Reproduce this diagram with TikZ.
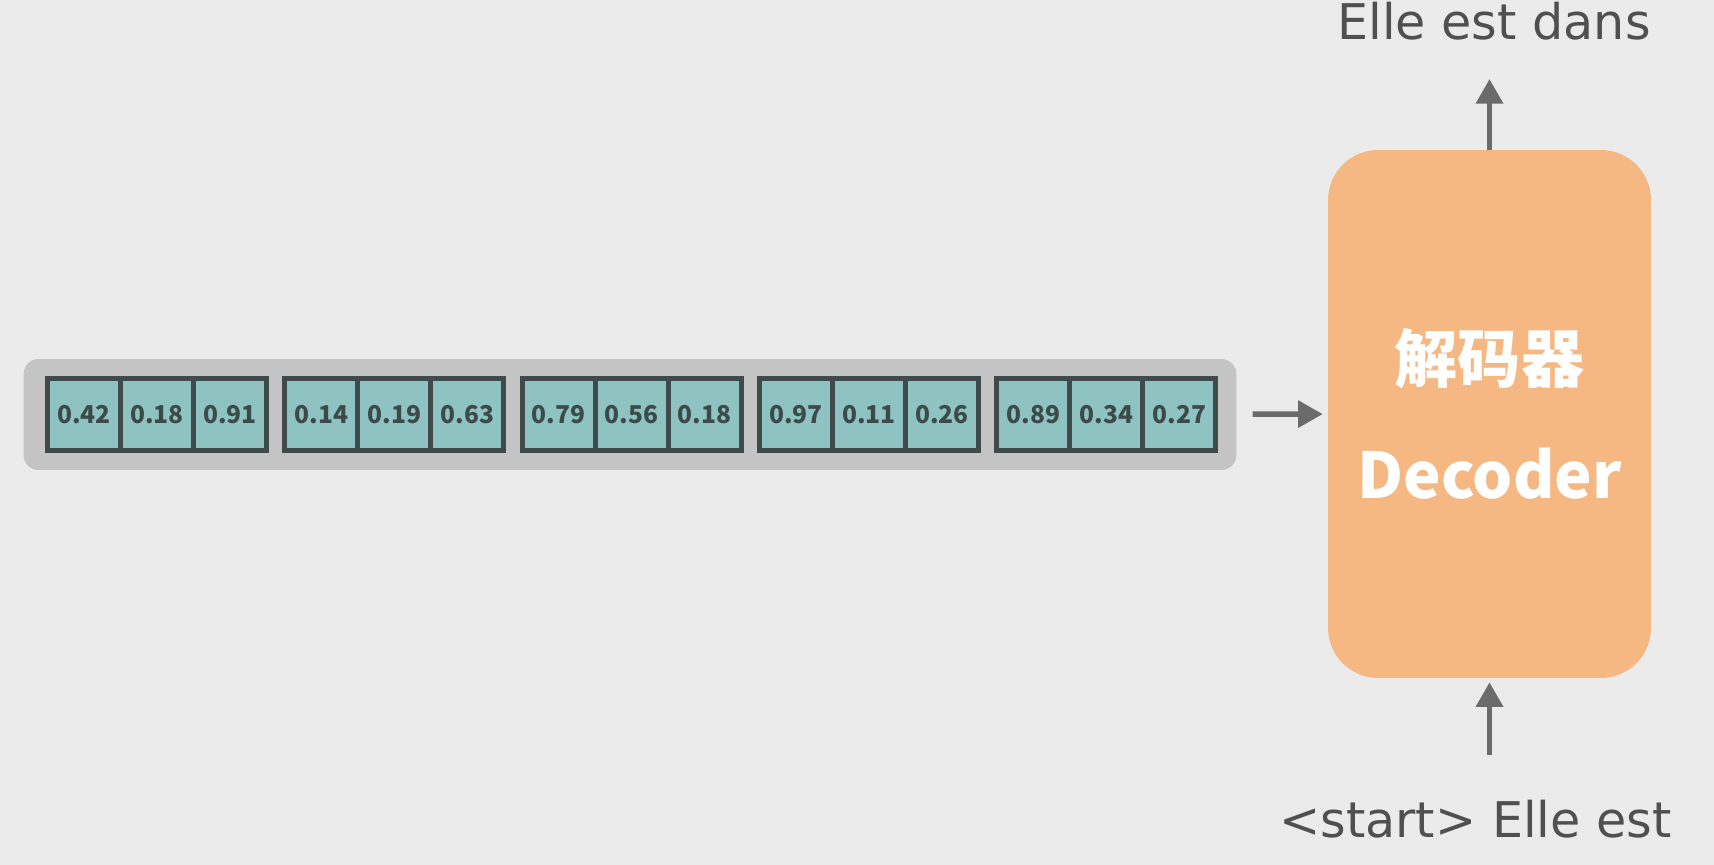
\documentclass[tikz,border=0pt]{standalone}
\usepackage{fontspec}
\setmainfont{DejaVu Sans}
\newfontfamily\cjk{Noto Sans CJK SC}
\usetikzlibrary{positioning, arrows.meta}

\definecolor{bgcol}{HTML}{EBEBEB}
\definecolor{bandcol}{HTML}{C4C4C4}
\definecolor{cellfill}{HTML}{8EC3C1}
\definecolor{cellline}{HTML}{3F4A4A}
\definecolor{celltext}{HTML}{3C4A4A}
\definecolor{arrowcol}{HTML}{6B6B6B}
\definecolor{deccol}{HTML}{F6B883}
\definecolor{labelcol}{HTML}{505050}

\begin{document}
\begin{tikzpicture}[
        x=0.02cm, y=-0.02cm,
        cell/.style={rectangle, draw=cellline, fill=cellfill, line width=2.8pt,
            minimum width=1.46cm, minimum height=1.44cm, inner sep=0pt,
            text=celltext, font=\cjk\bfseries\fontsize{14}{14}\selectfont},
        band/.style={rectangle, fill=bandcol, rounded corners=0.3cm,
            minimum width=24.26cm, minimum height=2.22cm, inner sep=0pt},
        decoder/.style={rectangle, fill=deccol, rounded corners=1cm,
            minimum width=6.46cm, minimum height=10.56cm, align=center,
            text=white, font=\cjk\bfseries\fontsize{36}{66}\selectfont},
        word/.style={inner sep=0pt, text=labelcol, font=\fontsize{28}{28}\selectfont},
        arrow/.style={-{Triangle[length=14pt, width=15pt]}, draw=arrowcol,
            line width=3.1pt}
    ]
        \path[use as bounding box, fill=bgcol] (0,0) rectangle (1714,865);

        % Grauer Streifen mit den Vektoren
        \node[band] (band) at (630,414.5) {};

        % 5 Vektoren mit je 3 Werten
        \foreach \val [count=\i from 0] in
            {0.42,0.18,0.91, 0.14,0.19,0.63, 0.79,0.56,0.18,
             0.97,0.11,0.26, 0.89,0.34,0.27} {
            \pgfmathsetmacro{\px}{84+237.3*int(\i/3)+73*mod(\i,3)}
            \node[cell] (c\i) at (\px,414.5) {\val};
        }

        % Decoder
        \node[decoder] (dec) at (1489.5,414) {解码器\\Decoder};

        % Labels
        \node[word, anchor=base] (out) at (1494,40) {Elle est dans};
        \node[word, anchor=base] (in) at (1475.5,837) {<start> Elle est};

        % Verbindungen
        \draw[arrow, shorten <=0.32cm, shorten >=0.1cm] (band) -- (dec);
        \draw[arrow, shorten >=0.76cm] (dec.north) -- (dec.north |- out.south);
        \draw[arrow, shorten <=0.89cm, shorten >=0.08cm] (dec.south |- in.north) -- (dec.south);

    \end{tikzpicture}
\end{document}
